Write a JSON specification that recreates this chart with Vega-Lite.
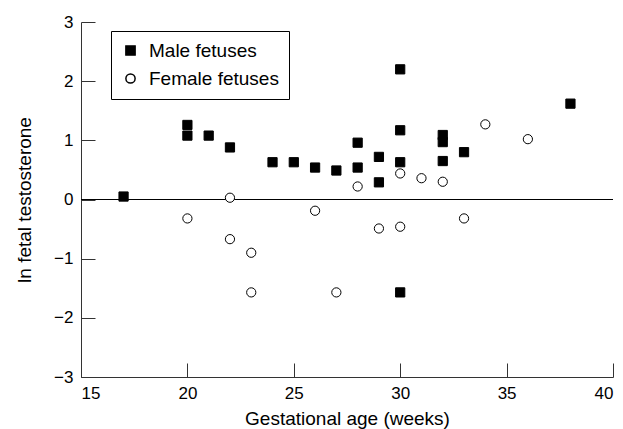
{
  "$schema": "https://vega.github.io/schema/vega-lite/v6.json",
  "width": 532,
  "height": 355,
  "autosize": "none",
  "padding": {"left": 81, "top": 22, "right": 10, "bottom": 52},
  "background": "white",
  "config": {
    "view": {"stroke": null},
    "font": "Liberation Sans",
    "axis": {
      "grid": false,
      "domainColor": "#333",
      "tickColor": "#333",
      "labelColor": "black",
      "titleColor": "black",
      "labelFont": "Liberation Sans",
      "titleFont": "Liberation Sans",
      "labelFontSize": 17,
      "titleFontSize": 19,
      "titleFontWeight": "normal",
      "tickSize": -14,
      "domainWidth": 1,
      "tickWidth": 1,
      "format": "d"
    }
  },
  "data": {
    "values": [
      {"age": 17, "lnT": 0.05, "sex": "Male fetuses"},
      {"age": 20, "lnT": 1.26, "sex": "Male fetuses"},
      {"age": 20, "lnT": 1.08, "sex": "Male fetuses"},
      {"age": 21, "lnT": 1.08, "sex": "Male fetuses"},
      {"age": 22, "lnT": 0.88, "sex": "Male fetuses"},
      {"age": 24, "lnT": 0.63, "sex": "Male fetuses"},
      {"age": 25, "lnT": 0.63, "sex": "Male fetuses"},
      {"age": 26, "lnT": 0.54, "sex": "Male fetuses"},
      {"age": 27, "lnT": 0.49, "sex": "Male fetuses"},
      {"age": 28, "lnT": 0.96, "sex": "Male fetuses"},
      {"age": 28, "lnT": 0.54, "sex": "Male fetuses"},
      {"age": 29, "lnT": 0.72, "sex": "Male fetuses"},
      {"age": 29, "lnT": 0.29, "sex": "Male fetuses"},
      {"age": 30, "lnT": 2.2, "sex": "Male fetuses"},
      {"age": 30, "lnT": 1.17, "sex": "Male fetuses"},
      {"age": 30, "lnT": 0.63, "sex": "Male fetuses"},
      {"age": 30, "lnT": -1.57, "sex": "Male fetuses"},
      {"age": 32, "lnT": 1.09, "sex": "Male fetuses"},
      {"age": 32, "lnT": 0.97, "sex": "Male fetuses"},
      {"age": 32, "lnT": 0.65, "sex": "Male fetuses"},
      {"age": 33, "lnT": 0.8, "sex": "Male fetuses"},
      {"age": 38, "lnT": 1.62, "sex": "Male fetuses"},
      {"age": 20, "lnT": -0.32, "sex": "Female fetuses"},
      {"age": 22, "lnT": 0.03, "sex": "Female fetuses"},
      {"age": 22, "lnT": -0.67, "sex": "Female fetuses"},
      {"age": 23, "lnT": -0.9, "sex": "Female fetuses"},
      {"age": 23, "lnT": -1.57, "sex": "Female fetuses"},
      {"age": 26, "lnT": -0.19, "sex": "Female fetuses"},
      {"age": 27, "lnT": -1.57, "sex": "Female fetuses"},
      {"age": 28, "lnT": 0.22, "sex": "Female fetuses"},
      {"age": 29, "lnT": -0.49, "sex": "Female fetuses"},
      {"age": 30, "lnT": -0.46, "sex": "Female fetuses"},
      {"age": 30, "lnT": 0.44, "sex": "Female fetuses"},
      {"age": 31, "lnT": 0.36, "sex": "Female fetuses"},
      {"age": 32, "lnT": 0.3, "sex": "Female fetuses"},
      {"age": 33, "lnT": -0.32, "sex": "Female fetuses"},
      {"age": 34, "lnT": 1.27, "sex": "Female fetuses"},
      {"age": 36, "lnT": 1.02, "sex": "Female fetuses"}
    ]
  },
  "layer": [
    {
      "mark": {"type": "rule", "color": "black", "strokeWidth": 1},
      "encoding": {"y": {"datum": 0}}
    },
    {
      "mark": {"type": "point", "filled": false, "stroke": "black", "strokeWidth": 1, "size": 85, "opacity": 1},
      "encoding": {
        "x": {
          "field": "age", "type": "quantitative",
          "scale": {"domain": [15, 40], "nice": false, "zero": false},
          "axis": {"values": [15, 20, 25, 30, 35, 40], "title": "Gestational age (weeks)", "labelPadding": 22, "titlePadding": 8}
        },
        "y": {
          "field": "lnT", "type": "quantitative",
          "scale": {"domain": [-3, 3], "nice": false},
          "axis": {"values": [-3, -2, -1, 0, 1, 2, 3], "title": "ln fetal testosterone", "labelPadding": 22, "titlePadding": 19}
        },
        "shape": {
          "field": "sex", "type": "nominal",
          "scale": {"domain": ["Male fetuses", "Female fetuses"], "range": ["square", "circle"]},
          "legend": {
            "orient": "none", "legendX": 30, "legendY": 9, "title": null,
            "strokeColor": "black", "padding": 10, "fillColor": "white",
            "labelFontSize": 19, "labelFont": "Liberation Sans", "labelColor": "black",
            "symbolSize": 85, "rowPadding": 8, "labelOffset": 9,
            "encode": {"symbols": {"update": {"stroke": {"value": "black"}, "strokeWidth": {"value": 1}}}}
          }
        },
        "fill": {
          "field": "sex", "type": "nominal",
          "scale": {"domain": ["Male fetuses", "Female fetuses"], "range": ["black", "white"]},
          "legend": {
            "orient": "none", "legendX": 30, "legendY": 9, "title": null,
            "strokeColor": "black", "padding": 10, "fillColor": "white",
            "labelFontSize": 19, "labelFont": "Liberation Sans", "labelColor": "black",
            "symbolSize": 85, "rowPadding": 8, "labelOffset": 9,
            "encode": {"symbols": {"update": {"stroke": {"value": "black"}, "strokeWidth": {"value": 1}}}}
          }
        }
      }
    }
  ]
}
